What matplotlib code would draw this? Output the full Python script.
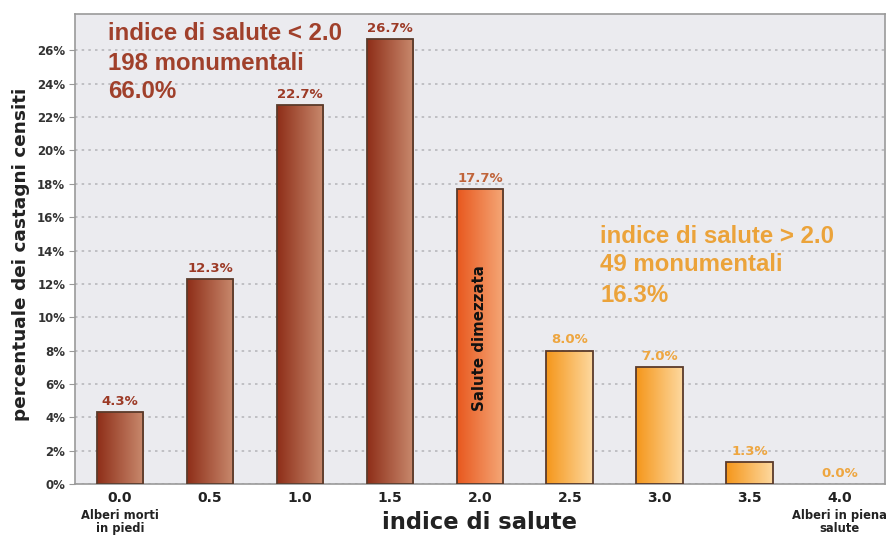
import numpy as np
import matplotlib
matplotlib.use("Agg")
import matplotlib.pyplot as plt
from matplotlib.colors import LinearSegmentedColormap
from matplotlib.patches import Rectangle

plt.rcParams["font.family"] = ["DejaVu Sans"]

# Health-index classes and share of surveyed chestnut trees (%)
indici = ["0.0", "0.5", "1.0", "1.5", "2.0", "2.5", "3.0", "3.5", "4.0"]
percentuali = [4.3, 12.3, 22.7, 26.7, 17.7, 8.0, 7.0, 1.3, 0.0]
gruppi = ["basso", "basso", "basso", "basso", "medio", "alto", "alto", "alto", "alto"]
yticks = list(range(0, 28, 2))

riepilogo_basso = ["indice di salute < 2.0", "198 monumentali", "66.0%"]
riepilogo_alto = ["indice di salute > 2.0", "49 monumentali", "16.3%"]

gradienti = {
    "basso": ("#8e2e18", "#c98a6e", "#9c3a26"),
    "medio": ("#e8581e", "#f5a878", "#c0643a"),
    "alto": ("#f5961a", "#fdd9a0", "#eea640"),
}

fig = plt.figure(figsize=(8.91, 5.35), dpi=100)
fig.patch.set_facecolor("white")
ax = fig.add_axes([0.0842, 0.0953, 0.9088, 0.879])
ax.set_facecolor("#ebebef")
ax.set_xlim(-0.5, 8.5)
ax.set_ylim(0, 28.2)

ax.set_yticks(yticks)
ax.set_yticklabels([f"{t}%" for t in yticks], fontsize=8.5, fontweight="bold", color="#333333")
ax.yaxis.grid(True, linestyle=(0, (1.5, 2.5)), color="#b8b8bc", linewidth=1.2)
ax.set_axisbelow(True)
ax.tick_params(axis="y", length=4, color="#999999", pad=3)
ax.tick_params(axis="x", length=0, pad=5)
for s in ax.spines.values():
    s.set_color("#9a9a9a")
    s.set_linewidth(1.2)

ax.set_xticks(range(len(indici)))
ax.set_xticklabels(indici, fontsize=10, fontweight="bold", color="#222222")

w = 0.52
grad = np.linspace(0, 1, 256).reshape(1, -1)
for i, (v, g) in enumerate(zip(percentuali, gruppi)):
    c0, c1, lc = gradienti[g]
    if v > 0:
        cmap = LinearSegmentedColormap.from_list(f"g{i}", [c0, c1])
        im = ax.imshow(grad, cmap=cmap, aspect="auto",
                       extent=(i - w / 2, i + w / 2, 0, v), zorder=2)
        rect = Rectangle((i - w / 2, 0), w, v, facecolor="none",
                         edgecolor="#5a3a2a", linewidth=1.3, zorder=3)
        ax.add_patch(rect)
        im.set_clip_path(rect)
    ax.text(i, v + 0.25, f"{v:.1f}%", ha="center", va="bottom",
            fontsize=9.5, fontweight="bold", color=lc, zorder=4)

ax.text(4, 8.75, "Salute dimezzata", rotation=90, ha="center", va="center",
        fontsize=10.8, fontweight="bold", color="#111111", zorder=4)

# Summary blocks, one text per line
for riga, yb in zip(riepilogo_basso, [26.6, 24.83, 23.13]):
    ax.text(-0.13, yb, riga, ha="left", va="baseline", fontsize=17.3,
            fontweight="bold", family="Liberation Sans", color="#a0402b", zorder=4)
for riga, yb in zip(riepilogo_alto, [14.47, 12.77, 10.93]):
    ax.text(5.34, yb, riga, ha="left", va="baseline", fontsize=17.3,
            fontweight="bold", family="Liberation Sans", color="#eba33a", zorder=4)

for xi, righe in ((0, ["Alberi morti", "in piedi"]), (8, ["Alberi in piena", "salute"])):
    for riga, yb in zip(righe, [-2.12, -2.86]):
        ax.text(xi, yb, riga, ha="center", va="baseline", fontsize=8.3,
                fontweight="bold", color="#222222")

ax.set_xlabel("indice di salute", fontsize=16.3, fontweight="bold", color="#222222")
ax.xaxis.label.set_va("center")
ax.xaxis.set_label_coords(0.5, -0.081)
ax.set_ylabel("percentuale dei castagni censiti", fontsize=13.3, fontweight="bold",
              color="#222222")
ax.yaxis.label.set_va("center")
ax.yaxis.set_label_coords(-0.067, 0.488)

fig.savefig("out.png", dpi=100)
